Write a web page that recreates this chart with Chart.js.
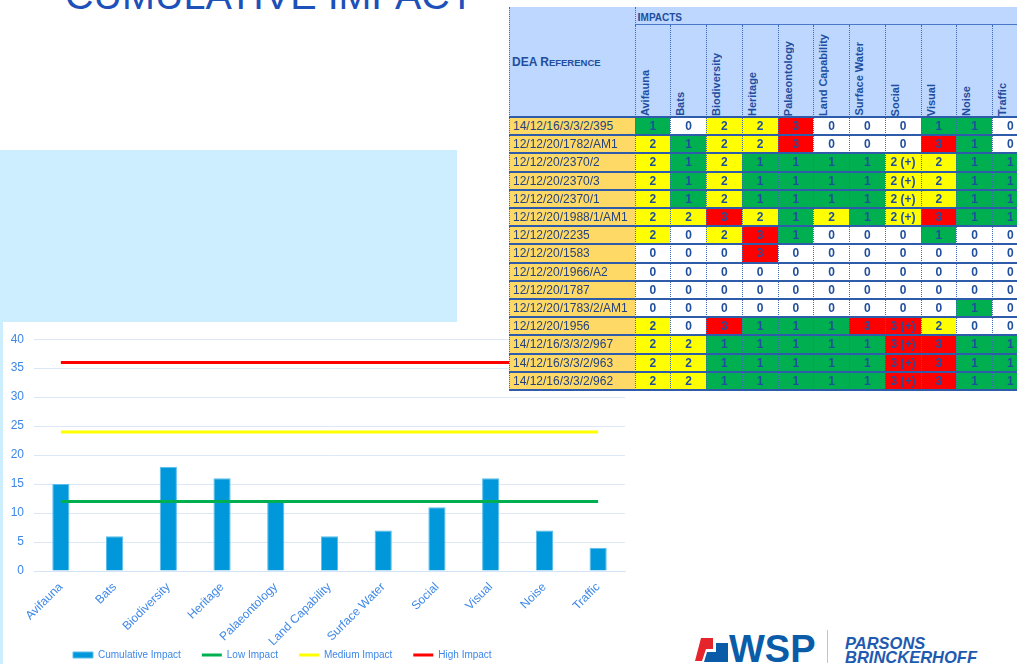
<!DOCTYPE html>
<html><head><meta charset="utf-8">
<script src="https://cdn.jsdelivr.net/npm/chart.js@4.4.1/dist/chart.umd.min.js"></script>
<style>
html,body{margin:0;padding:0;width:1017px;height:664px;overflow:hidden;background:#fff;font-family:'Liberation Sans',Arial,sans-serif;}
#title{position:absolute;left:65px;top:-25px;font-size:39.5px;line-height:40px;color:#1E50B9;white-space:nowrap;}
#panel{position:absolute;left:0;top:150px;width:457px;height:514px;background:#CCEEFF;}
#chartbox{position:absolute;left:3px;top:322px;width:624px;height:342px;background:#fff;}
#tbl{position:absolute;left:509px;top:7px;width:520px;height:386px;z-index:5;}
#logo{position:absolute;left:680px;top:620px;z-index:6;}
.big{font-size:12px}.sm{font-size:9.5px}
</style></head>
<body>
<div id="title">CUMULATIVE IMPACT</div>
<div id="panel"></div>
<div id="chartbox"><canvas id="c" width="624" height="342"></canvas></div>
<div id="tbl"></div>
<svg id="logo" width="337" height="44" viewBox="680 620 337 44">
  <polygon points="695,661 701,638 713,638 713,649 706,649 702,661" fill="#E4252B"/>
  <polygon points="704,662 707,652 716,652 716,643 728,643 728,662" fill="#0A5CA8"/>
  <text x="729" y="662" font-family="Liberation Sans, Arial" font-weight="bold" font-size="38" fill="#0A5CA8">WSP</text>
  <line x1="827.5" y1="630" x2="827.5" y2="663" stroke="#BFC5CC" stroke-width="1"/>
  <text x="845" y="649" font-family="Liberation Sans, Arial" font-weight="bold" font-style="italic" font-size="16.5" fill="#1E5BB0">PARSONS</text>
  <text x="845" y="663" font-family="Liberation Sans, Arial" font-weight="bold" font-style="italic" font-size="16.5" fill="#1E5BB0">BRINCKERHOFF</text>
</svg>
<script>
// ---------- chart data ----------
const categories = ['Avifauna','Bats','Biodiversity','Heritage','Palaeontology','Land Capability','Surface Water','Social','Visual','Noise','Traffic'];
const cumulativeImpact = [15, 6, 18, 16, 12, 6, 7, 11, 16, 7, 4];
const lowImpact    = [12, 12, 12, 12, 12, 12, 12, 12, 12, 12, 12];
const mediumImpact = [24, 24, 24, 24, 24, 24, 24, 24, 24, 24, 24];
const highImpact   = [36, 36, 36, 36, 36, 36, 36, 36, 36, 36, 36];
const seriesNames = ['Cumulative Impact', 'Low Impact', 'Medium Impact', 'High Impact'];

// ---------- table data ----------
const tableImpacts = ['Avifauna','Bats','Biodiversity','Heritage','Palaeontology','Land Capability','Surface Water','Social','Visual','Noise','Traffic'];
const deaRefs = ['14/12/16/3/3/2/395','12/12/20/1782/AM1','12/12/20/2370/2','12/12/20/2370/3','12/12/20/2370/1','12/12/20/1988/1/AM1','12/12/20/2235','12/12/20/1583','12/12/20/1966/A2','12/12/20/1787','12/12/20/1783/2/AM1','12/12/20/1956','14/12/16/3/3/2/967','14/12/16/3/3/2/963','14/12/16/3/3/2/962'];
const r395   = ['1','0','2','2','3','0','0','0','1','1','0'];
const r1782  = ['2','1','2','2','3','0','0','0','3','1','0'];
const r2370a = ['2','1','2','1','1','1','1','2 (+)','2','1','1'];
const r2370b = ['2','1','2','1','1','1','1','2 (+)','2','1','1'];
const r2370c = ['2','1','2','1','1','1','1','2 (+)','2','1','1'];
const r1988  = ['2','2','3','2','1','2','1','2 (+)','3','1','1'];
const r2235  = ['2','0','2','3','1','0','0','0','1','0','0'];
const r1583  = ['0','0','0','3','0','0','0','0','0','0','0'];
const r1966  = ['0','0','0','0','0','0','0','0','0','0','0'];
const r1787  = ['0','0','0','0','0','0','0','0','0','0','0'];
const r1783  = ['0','0','0','0','0','0','0','0','0','1','0'];
const r1956  = ['2','0','3','1','1','1','3','3 (+)','2','0','0'];
const r967   = ['2','2','1','1','1','1','1','3 (+)','3','1','1'];
const r963   = ['2','2','1','1','1','1','1','3 (+)','3','1','1'];
const r962   = ['2','2','1','1','1','1','1','3 (+)','3','1','1'];
const tableRows = [r395,r1782,r2370a,r2370b,r2370c,r1988,r2235,r1583,r1966,r1787,r1783,r1956,r967,r963,r962];

// ---------- build table ----------
const tbl = document.getElementById('tbl');
function box(x,y,w,h,css,text){
  const d=document.createElement('div');
  d.style.cssText=`position:absolute;left:${x}px;top:${y}px;width:${w}px;height:${h}px;box-sizing:border-box;${css}`;
  if(text!=null) d.textContent=text;
  tbl.appendChild(d); return d;
}
const refW = 125.5, colW = 35.75, headTop = 18, headBot = 110, rowH = 18.2;
const HEAD_BG = '#BDD7FE', REF_BG = '#FFD966', DOT = '1px dotted #3F68B8', TXT = '#1F4E9E';
const cellBg = {'0':'#FFFFFF','1':'#00B050','2':'#FFFF00','3':'#FF0000'};
box(0,0,520,headBot,`background:${HEAD_BG};border-left:${DOT};`);
const dea = box(3,0,refW-3,headBot,`display:flex;align-items:center;font-weight:bold;color:${TXT};white-space:pre;`);
dea.innerHTML = '<span class="big">DEA R</span><span class="sm">EFERENCE</span>';
const imp = box(refW,0,520-refW,headTop,`border-left:${DOT};border-bottom:1px solid #4A78C8;font-weight:bold;line-height:17px;padding-left:2px;color:${TXT};`);
imp.innerHTML = '<span style="font-size:11px">I</span><span style="font-size:10px">MPACTS</span>';
tableImpacts.forEach((name,i)=>{
  const b = box(refW+i*colW, headTop, colW, headBot-headTop, `border-left:${DOT};`);
  const s=document.createElement('div');
  s.textContent=name;
  s.style.cssText=`position:absolute;left:3px;bottom:1px;writing-mode:vertical-rl;transform:rotate(180deg);font-weight:bold;font-size:11px;line-height:12px;color:${TXT};white-space:nowrap;`;
  b.appendChild(s);
});
deaRefs.forEach((ref,r)=>{
  const y = headBot + r*rowH;
  box(0,y,refW,rowH,`background:${REF_BG};border-left:${DOT};font-size:12px;line-height:18px;padding-left:3px;color:#24427E;white-space:nowrap;`,ref);
  tableRows[r].forEach((v,i)=>{
    box(refW+i*colW,y,colW,rowH,`background:${cellBg[v[0]]};border-left:${DOT};font-size:12px;font-weight:bold;line-height:18px;text-align:center;color:${TXT};white-space:nowrap;`,v);
  });
  box(0,y-1,520,2,`background:#2E5BAA;`);
});
box(0,headBot+deaRefs.length*rowH-1,520,2,`background:#2E5BAA;`);

// ---------- chart ----------
const TICKFONT = {family:"'Liberation Sans',Arial,sans-serif", size:12};
const LEGFONT = {family:"'Liberation Sans',Arial,sans-serif", size:10};
const BLUE = '#3D87E8';
const chart = new Chart(document.getElementById('c'), {
  type:'bar',
  data:{labels:categories, datasets:[
    {type:'bar', label:seriesNames[0], data:cumulativeImpact, backgroundColor:'#0098DA', borderColor:'#5BBDEB', borderWidth:1, barPercentage:0.32, categoryPercentage:1, order:1, pointStyle:'rect'},
    {type:'line', label:seriesNames[1], data:lowImpact, borderColor:'#00B050', backgroundColor:'#00B050', borderWidth:3, pointBorderWidth:3, pointRadius:0, order:0, pointStyle:'line'},
    {type:'line', label:seriesNames[2], data:mediumImpact, borderColor:'#FFFF00', backgroundColor:'#FFFF00', borderWidth:3, pointBorderWidth:3, pointRadius:0, order:0, pointStyle:'line'},
    {type:'line', label:seriesNames[3], data:highImpact, borderColor:'#FF0000', backgroundColor:'#FF0000', borderWidth:3, pointBorderWidth:3, pointRadius:0, order:0, pointStyle:'line'}
  ]},
  options:{responsive:false, animation:false, events:[],
    layout:{padding:{left:0,right:2,top:14,bottom:0}},
    plugins:{
      legend:{position:'bottom', align:'start', labels:{usePointStyle:true, pointStyleWidth:20, boxHeight:6, padding:21, color:BLUE, font:LEGFONT, sort:(a,b)=>a.datasetIndex-b.datasetIndex}},
      tooltip:{enabled:false}
    },
    scales:{
      x:{grid:{display:false, drawTicks:false}, border:{color:'#D4E3F5'},
         ticks:{color:BLUE, font:TICKFONT, minRotation:45, maxRotation:45, padding:9, autoSkip:false},
         afterFit:s=>{s.height=80;}},
      y:{min:0, max:40, ticks:{stepSize:5, color:BLUE, font:TICKFONT, padding:10},
         grid:{color:'#DCE8F7', drawTicks:false}, border:{display:false},
         afterFit:s=>{s.width=31;}}
    }
  },
  plugins:[{id:'legendPlace', afterLayout(chart){
    const l=chart.legend; const h=l.bottom-l.top; const w=l.right-l.left;
    l.top = 333 - 21 - 5; l.bottom = l.top + h;
    l.left = 49; l.right = 49 + w;
  }}]
});
// Fit the plot area to the target frame (left 31, top 14, right 622, bottom 249 in canvas px)
for (let k=0;k<4;k++){
  const ca = chart.chartArea, p = chart.options.layout.padding;
  p.top += 14 - ca.top;
  p.bottom += ca.bottom - 249;
  p.left += 31 - ca.left;
  p.right += ca.right - 622;
  chart.update();
}
</script>
</body></html>
